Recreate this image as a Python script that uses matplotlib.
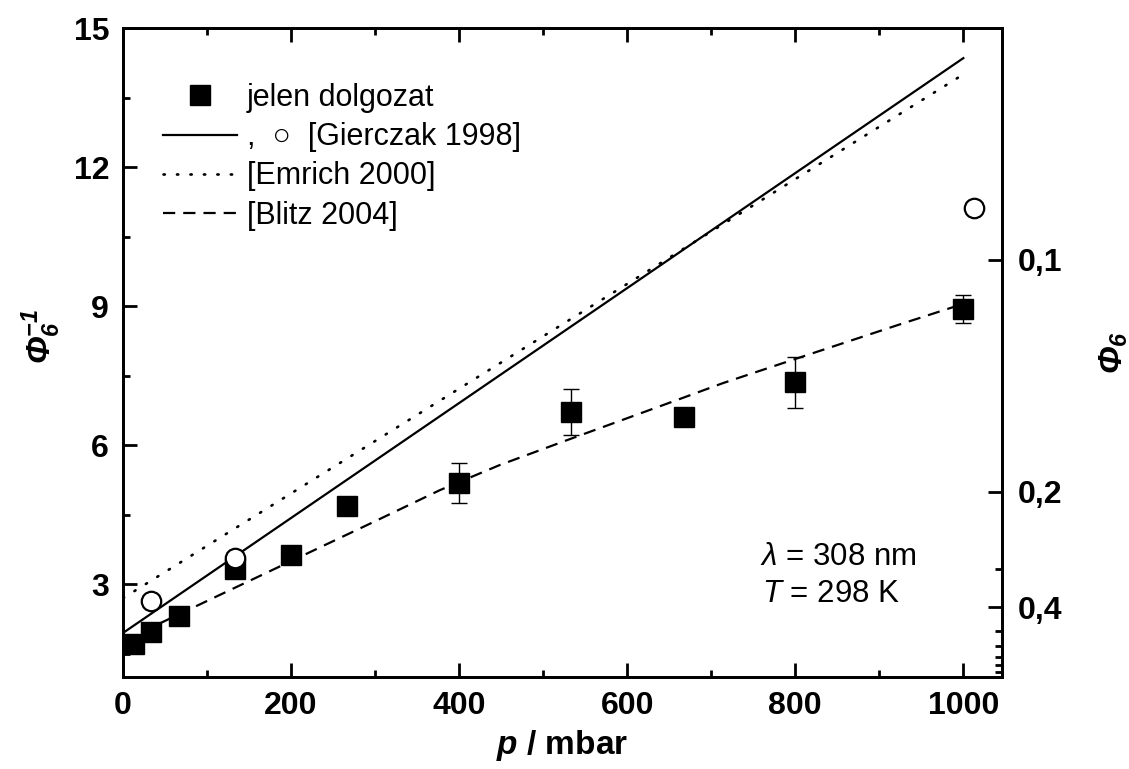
import matplotlib
matplotlib.use("Agg")
import matplotlib.pyplot as plt
from matplotlib.lines import Line2D
from matplotlib.ticker import FixedLocator, MultipleLocator

# --- data -------------------------------------------------------------
# this work: pressure (mbar), 1/Phi6 and its uncertainty
p_meas = [13, 33, 67, 133, 200, 267, 400, 533, 667, 800, 1000]
phi_inv_meas = [1.71, 1.97, 2.31, 3.33, 3.63, 4.69, 5.18, 6.71, 6.61, 7.36, 8.93]
phi_inv_err = [0, 0, 0, 0, 0, 0, 0.43, 0.50, 0, 0.55, 0.30]

# Gierczak 1998: measured points and linear Stern-Volmer line
p_gierczak = [33, 133, 1013]
phi_inv_gierczak = [2.64, 3.56, 11.11]
p_gierczak_line = [0, 1000]
phi_inv_gierczak_line = [1.95, 14.35]

# Emrich 2000: linear Stern-Volmer line
p_emrich_line = [0, 1000]
phi_inv_emrich_line = [2.70, 14.00]

# Blitz 2004: curved dependence
p_blitz = [0, 100, 200, 300, 377, 448, 530, 663, 714, 800, 925, 1000]
phi_inv_blitz = [1.78, 2.64, 3.50, 4.36, 5.03, 5.57, 6.12, 7.00, 7.34, 7.86,
                 8.61, 9.05]

# right-hand axis: quantum yield Phi6
phi_major = [0.1, 0.2, 0.4]
phi_minor = [0.3, 0.5, 0.6, 0.7, 0.8, 0.9]

legend_labels = ["jelen dolgozat", ",  \u25CB  [Gierczak 1998]",
                 "[Emrich 2000]", "[Blitz 2004]"]

# --- style ------------------------------------------------------------
FONT = "Liberation Sans"
TICK_FS = 23
LABEL_FS = 24
plt.rcParams.update({
    "font.family": FONT,
    "font.size": 22,
    "mathtext.fontset": "custom",
    "mathtext.rm": FONT,
    "mathtext.it": f"{FONT}:italic",
    "mathtext.bf": f"{FONT}:bold",
    "mathtext.bfit": f"{FONT}:italic:bold",
    "axes.linewidth": 2.0,
})

DOT = (0, (0.5, 4.6))
DASH = (0, (5.5, 3.6))

fig = plt.figure(figsize=(11.29, 7.69), dpi=100)
ax = fig.add_axes([123 / 1129, 1 - 677 / 769, (1002 - 123) / 1129, (677 - 28) / 769])

# fit / literature lines
ax.plot(p_gierczak_line, phi_inv_gierczak_line, color="black", lw=1.6, ls="-")
ax.plot(p_emrich_line, phi_inv_emrich_line, color="black", lw=1.9, ls=DOT,
        dash_capstyle="round")
ax.plot(p_blitz, phi_inv_blitz, color="black", lw=1.6, ls=DASH)

# measured points
ax.errorbar(p_meas, phi_inv_meas, yerr=phi_inv_err, fmt="s", color="black",
            ms=14, elinewidth=1.0, capsize=5.5, capthick=1.0, zorder=4)
ax.plot(p_gierczak, phi_inv_gierczak, "o", ms=14, mfc="white", mec="black",
        mew=1.6, zorder=5)

ax.set_xlim(0, 1046)
ax.set_ylim(1, 15)

ax.xaxis.set_major_locator(MultipleLocator(200))
ax.xaxis.set_minor_locator(MultipleLocator(100))
ax.yaxis.set_major_locator(MultipleLocator(3))
ax.yaxis.set_minor_locator(MultipleLocator(1.5))
ax.tick_params(which="both", direction="in", top=True, right=False, width=2.0,
               labelsize=TICK_FS)
ax.tick_params(which="major", length=10, pad=10)
ax.tick_params(which="minor", length=5)
for lbl in ax.get_xticklabels() + ax.get_yticklabels():
    lbl.set_fontweight("bold")

ax.set_xlabel(r"$\mathbfit{p}$ / mbar", fontweight="bold", fontsize=LABEL_FS,
              labelpad=5)
ax.set_ylabel(r"$\mathbfit{\Phi}_{\mathbfit{6}}^{\mathbfit{-1}}$",
              fontweight="bold", fontsize=LABEL_FS)
ax.yaxis.set_label_coords(-0.068, 0.525)

# right axis in units of Phi6 = 1 / (1/Phi6)
ax2 = ax.twinx()
ax2.set_ylim(ax.get_ylim())
ax2.yaxis.set_major_locator(FixedLocator([1 / v for v in phi_major]))
ax2.yaxis.set_minor_locator(FixedLocator([1 / v for v in phi_minor]))
ax2.set_yticklabels([f"{v:.1f}".replace(".", ",") for v in phi_major],
                    fontweight="bold", fontsize=TICK_FS)
ax2.tick_params(which="both", direction="in", width=2.0)
ax2.tick_params(which="major", length=10, pad=11)
ax2.tick_params(which="minor", length=5)
ax2.set_ylabel(r"$\mathbfit{\Phi}_{\mathbfit{6}}$", fontweight="bold",
               fontsize=LABEL_FS, labelpad=26)

# legend
handles = [
    Line2D([], [], ls="none", marker="s", color="black", ms=14),
    Line2D([], [], ls="-", color="black", lw=1.6),
    Line2D([], [], ls=DOT, color="black", lw=1.9, dash_capstyle="round"),
    Line2D([], [], ls=DASH, color="black", lw=1.6),
]
ax.legend(handles, legend_labels, loc="upper left",
          bbox_to_anchor=(0.045, 0.915), frameon=False, fontsize=22,
          handlelength=2.45, handletextpad=0.3, labelspacing=0.3,
          borderpad=0, borderaxespad=0)

# experimental conditions
ax.text(0.725, 0.185, r"$\mathit{\lambda}$ = 308 nm", transform=ax.transAxes,
        fontsize=22.5, va="center")
ax.text(0.727, 0.128, r"$\mathit{T}$ = 298 K", transform=ax.transAxes,
        fontsize=22.5, va="center")

fig.savefig("out.png", dpi=100)
